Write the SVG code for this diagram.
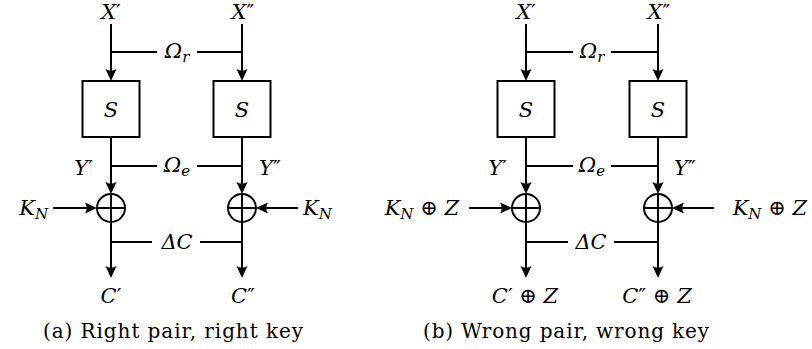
<svg xmlns="http://www.w3.org/2000/svg" width="812" height="349" viewBox="0 0 812 349" font-family="'DejaVu Serif', serif">
<defs>
<marker id="ah" markerUnits="userSpaceOnUse" viewBox="-13 -6 14 12" markerWidth="14" markerHeight="12" refX="-6" refY="0" orient="auto">
<path d="M0 0 L-12 -5.5 Q-8.5 0 -12 5.5 Z" fill="#000"/>
</marker>
</defs>
<style>
.ln{fill:none;stroke:#000;stroke-width:2}
.ar{fill:none;stroke:#000;stroke-width:2;marker-end:url(#ah)}
.box{fill:#fff;stroke:#000;stroke-width:2}
.xor{fill:none;stroke:#000;stroke-width:2}
.m{font-family:'DejaVu Serif',serif;font-style:italic;font-size:21px;fill:#000}
.up{font-style:normal}
.sub{font-size:15px}
.cap{font-family:'DejaVu Serif',serif;font-size:20px;fill:#000}
</style>
<rect width="812" height="349" fill="#fff"/>

<g id="connectors">
<path class="ar" d="M111 24 V75"/>
<path class="ar" d="M242 24 V75"/>
<path class="ln" d="M111 52 H157 M197 52 H242"/>
<path class="ar" d="M111 137 V188"/>
<path class="ar" d="M242 137 V188"/>
<path class="ln" d="M111 166 H157 M197 166 H242"/>
<path class="ar" d="M53 208 H91"/>
<path class="ar" d="M298 208 H262"/>
<path class="ar" d="M111 222 V272"/>
<path class="ar" d="M242 222 V272"/>
<path class="ln" d="M111 242 H152 M200 242 H242"/>
<path class="ar" d="M526 24 V75"/>
<path class="ar" d="M658 24 V75"/>
<path class="ln" d="M526 52 H573 M611 52 H658"/>
<path class="ar" d="M526 137 V188"/>
<path class="ar" d="M658 137 V188"/>
<path class="ln" d="M526 166 H573 M611 166 H658"/>
<path class="ar" d="M469 208 H506"/>
<path class="ar" d="M714 208 H678"/>
<path class="ar" d="M526 222 V272"/>
<path class="ar" d="M658 222 V272"/>
<path class="ln" d="M526 242 H568 M614 242 H658"/>
</g>

<g id="a-x1"><text class="m" x="111" y="19" text-anchor="middle">X<tspan class="up">′</tspan></text></g>
<g id="a-x2"><text class="m" x="243" y="19" text-anchor="middle">X<tspan class="up">″</tspan></text></g>
<g id="a-omr"><text class="m" x="177" y="58" text-anchor="middle">Ω<tspan class="sub" dy="4">r</tspan></text></g>
<g id="a-s1"><rect class="box" x="82.5" y="81" width="57" height="56"/><text class="m" x="111" y="117" text-anchor="middle">S</text></g>
<g id="a-s2"><rect class="box" x="213.5" y="81" width="57" height="56"/><text class="m" x="242" y="117" text-anchor="middle">S</text></g>
<g id="a-y1"><text class="m" x="93" y="175" text-anchor="end">Y<tspan class="up">′</tspan></text></g>
<g id="a-y2"><text class="m" x="259" y="175">Y<tspan class="up">″</tspan></text></g>
<g id="a-ome"><text class="m" x="177" y="172" text-anchor="middle">Ω<tspan class="sub" dy="4">e</tspan></text></g>
<g id="a-xor1"><circle class="xor" cx="111" cy="208" r="14"/><path class="ln" d="M97 208 H125 M111 194 V222"/></g>
<g id="a-xor2"><circle class="xor" cx="242" cy="208" r="14"/><path class="ln" d="M228 208 H256 M242 194 V222"/></g>
<g id="a-k1"><text class="m" x="48" y="215" text-anchor="end">K<tspan class="sub" dy="4">N</tspan></text></g>
<g id="a-k2"><text class="m" x="303" y="215">K<tspan class="sub" dy="4">N</tspan></text></g>
<g id="a-dc"><text class="m" x="177" y="249" text-anchor="middle">ΔC</text></g>
<g id="a-c1"><text class="m" x="111" y="303" text-anchor="middle">C<tspan class="up">′</tspan></text></g>
<g id="a-c2"><text class="m" x="243" y="303" text-anchor="middle">C<tspan class="up">″</tspan></text></g>
<g id="a-cap"><text class="cap" x="43" y="338" textLength="260" lengthAdjust="spacing">(a) Right pair, right key</text></g>

<g id="b-x1"><text class="m" x="526" y="19" text-anchor="middle">X<tspan class="up">′</tspan></text></g>
<g id="b-x2"><text class="m" x="659" y="19" text-anchor="middle">X<tspan class="up">″</tspan></text></g>
<g id="b-omr"><text class="m" x="592" y="58" text-anchor="middle">Ω<tspan class="sub" dy="4">r</tspan></text></g>
<g id="b-s1"><rect class="box" x="497.5" y="81" width="57" height="56"/><text class="m" x="526" y="117" text-anchor="middle">S</text></g>
<g id="b-s2"><rect class="box" x="629.5" y="81" width="57" height="56"/><text class="m" x="658" y="117" text-anchor="middle">S</text></g>
<g id="b-y1"><text class="m" x="507" y="175" text-anchor="end">Y<tspan class="up">′</tspan></text></g>
<g id="b-y2"><text class="m" x="674" y="175">Y<tspan class="up">″</tspan></text></g>
<g id="b-ome"><text class="m" x="592" y="172" text-anchor="middle">Ω<tspan class="sub" dy="4">e</tspan></text></g>
<g id="b-xor1"><circle class="xor" cx="526" cy="208" r="14"/><path class="ln" d="M512 208 H540 M526 194 V222"/></g>
<g id="b-xor2"><circle class="xor" cx="658" cy="208" r="14"/><path class="ln" d="M644 208 H672 M658 194 V222"/></g>
<g id="b-k1"><text class="m" x="459" y="215" text-anchor="end">K<tspan class="sub" dy="4">N</tspan><tspan dy="-4" class="up"> ⊕ </tspan>Z</text></g>
<g id="b-k2"><text class="m" x="807" y="215" text-anchor="end">K<tspan class="sub" dy="4">N</tspan><tspan dy="-4" class="up"> ⊕ </tspan>Z</text></g>
<g id="b-dc"><text class="m" x="591" y="249" text-anchor="middle">ΔC</text></g>
<g id="b-c1"><text class="m" x="525" y="303" text-anchor="middle">C<tspan class="up">′ ⊕ </tspan>Z</text></g>
<g id="b-c2"><text class="m" x="657" y="303" text-anchor="middle">C<tspan class="up">″ ⊕ </tspan>Z</text></g>
<g id="b-cap"><text class="cap" x="423" y="338" textLength="286" lengthAdjust="spacing">(b) Wrong pair, wrong key</text></g>
</svg>
